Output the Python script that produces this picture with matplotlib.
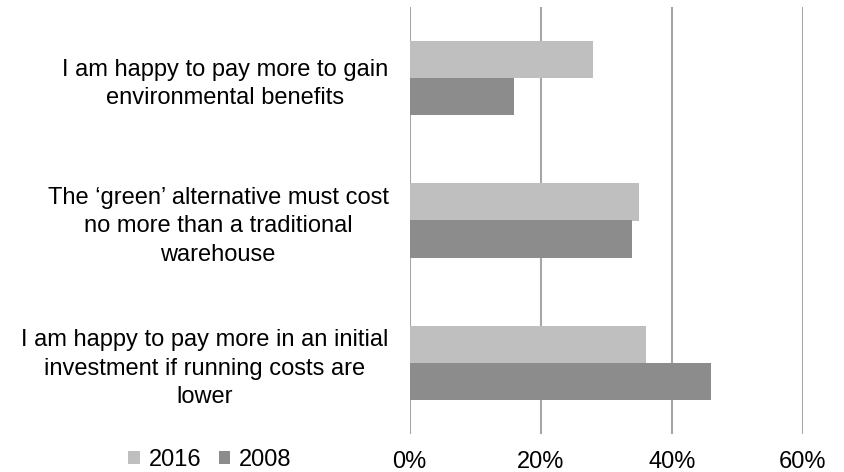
import matplotlib
matplotlib.use("Agg")
import matplotlib.pyplot as plt
from matplotlib.patches import Patch

plt.rcParams['font.family'] = ['Liberation Sans', 'DejaVu Sans']

# Survey statements (top to bottom) and shares of respondents
categories = [
    "I am happy to pay more to gain\nenvironmental benefits",
    "The \u2018green\u2019 alternative must cost\nno more than a traditional\nwarehouse",
    "I am happy to pay more in an initial\ninvestment if running costs are\nlower",
]
values_2016 = [28, 35, 36]
values_2008 = [16, 34, 46]
series_labels = ["2016", "2008"]
tick_values = [0, 20, 40, 60]
tick_labels = ["0%", "20%", "40%", "60%"]

color_2016 = "#BFBFBF"
color_2008 = "#8C8C8C"
grid_color = "#A6A6A6"
fs = 17

fig = plt.figure(figsize=(8.44, 4.72), dpi=100)
ax = fig.add_axes([409.5 / 844, 1 - 434 / 472, (803 - 409.5) / 844, 427 / 472])

bar_h = 0.26
ypos = list(range(len(categories)))
ax.barh([y - bar_h / 2 for y in ypos], values_2016, height=bar_h,
        color=color_2016, zorder=3)
ax.barh([y + bar_h / 2 for y in ypos], values_2008, height=bar_h,
        color=color_2008, zorder=3)

ax.set_ylim(len(categories) - 0.5, -0.5)
ax.set_xlim(0, 60)
ax.set_xticks(tick_values)
ax.set_xticklabels(tick_labels, fontsize=fs)
ax.set_yticks(ypos)
ax.set_yticklabels(categories, fontsize=fs, linespacing=1.38)
for lab in ax.get_yticklabels():
    lab.set_multialignment('center')

ax.tick_params(axis='both', length=0, colors='#000000')
ax.tick_params(axis='y', pad=15)
ax.tick_params(axis='x', pad=12)
for s in ax.spines.values():
    s.set_visible(False)
ax.grid(axis='x', color=grid_color, linewidth=1.5, zorder=0)
ax.set_axisbelow(True)

handles = [Patch(facecolor=color_2016, edgecolor='none'),
           Patch(facecolor=color_2008, edgecolor='none')]
fig.legend(handles, series_labels, loc='center left',
           bbox_to_anchor=(119 / 844, 1 - 460 / 472), ncol=2, frameon=False,
           fontsize=fs, handlelength=0.47, handleheight=0.47,
           handletextpad=0.38, columnspacing=0.75, borderaxespad=0)

fig.savefig("out.png", dpi=100)
